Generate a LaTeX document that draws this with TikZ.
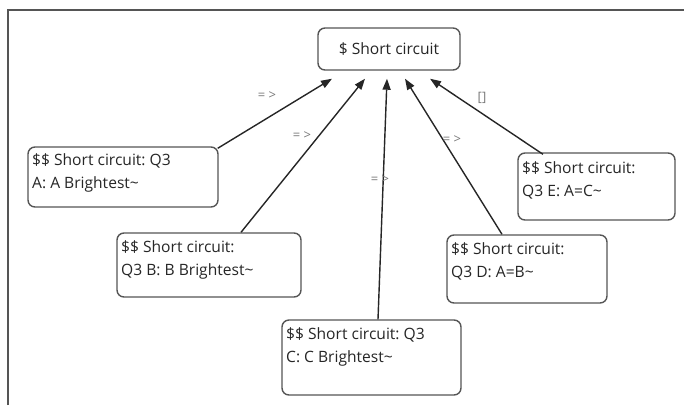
\documentclass[tikz,border=0pt]{standalone}
\usepackage{fontspec}
\setmainfont{Open Sans}
\usetikzlibrary{arrows.meta}
\definecolor{boxline}{HTML}{555555}
\definecolor{lbl}{HTML}{7a7a7a}
\frenchspacing
\begin{document}
\begin{tikzpicture}[x=1pt,y=-1pt,
  box/.style={draw=boxline, line width=1.4pt, rounded corners=7pt, inner sep=0pt, fill=white},
  boxtext/.style={anchor=north west, inner sep=0pt, align=left, font=\fontsize{15.6}{23}\selectfont, text=black!85},
  conn/.style={draw=black!85, line width=1.4pt, -{Triangle[length=11pt,width=8pt]}},
  elbl/.style={font=\fontsize{13}{14}\selectfont, text=lbl}]
\useasboundingbox (0,0) rectangle (684,405);
% outer frame
\draw[boxline, line width=1.4pt] (8,405) -- (8,10) -- (684,10);
% nodes
\node[box, minimum width=142pt, minimum height=42pt, font=\fontsize{15.6}{23}\selectfont, text=black!85] (top) at (389,49) {\$ Short circuit};
\node[box, minimum width=190pt, minimum height=60pt] (A) at (123,177) {};
\node[boxtext] (At) at (32,153) {\$\$ Short circuit: Q3\\A: A Brightest\textasciitilde};
\node[box, minimum width=184pt, minimum height=64pt] (B) at (209,265) {};
\node[boxtext] (Bt) at (121,240) {\$\$ Short circuit:\\Q3 B: B Brightest\textasciitilde};
\node[box, minimum width=179pt, minimum height=75pt] (C) at (371.5,357.5) {};
\node[boxtext] (Ct) at (286,327) {\$\$ Short circuit: Q3\\C: C Brightest\textasciitilde};
\node[box, minimum width=160pt, minimum height=68pt] (D) at (527,269) {};
\node[boxtext] (Dt) at (451,242) {\$\$ Short circuit:\\Q3 D: A=B\textasciitilde};
\node[box, minimum width=157pt, minimum height=67pt] (E) at (596.5,186.5) {};
\node[boxtext] (Et) at (522,161) {\$\$ Short circuit:\\Q3 E: A=C\textasciitilde};
% connectors
\draw[conn] ([xshift=-1pt,yshift=-2pt]A.north east) -- ([xshift=-57pt,yshift=-8pt]top.south);
\draw[conn] ([xshift=32pt]B.north) -- ([xshift=-24pt,yshift=-8pt]top.south);
\draw[conn] ([xshift=6.5pt]C.north) -- ([xshift=-2pt,yshift=-8pt]top.south);
\draw[conn] ([xshift=-25pt]D.north) -- ([xshift=16pt,yshift=-8pt]top.south);
\draw[conn] ([xshift=-53.5pt,yshift=-2pt]E.north) -- ([xshift=41pt,yshift=-8pt]top.south);
% edge labels
\node[elbl] (la) at (267,96) {= >};
\node[elbl] (lb) at (302,136) {= >};
\node[elbl] (lc) at (380,180) {= >};
\node[elbl] (ld) at (452,140) {= >};
\node[elbl] (le) at (482,98) {[]};
\end{tikzpicture}
\end{document}
